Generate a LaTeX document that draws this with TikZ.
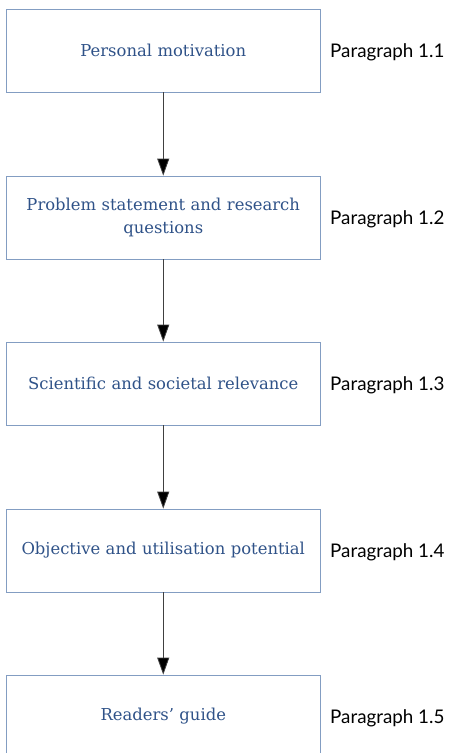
\documentclass[tikz,border=0pt]{standalone}
\usepackage{fontspec}
\setmainfont{DejaVu Serif}
\newfontfamily\labelfont{Lato}
\usetikzlibrary{arrows.meta}
\definecolor{boxline}{HTML}{839DC2}
\definecolor{boxtext}{HTML}{2F5288}
\definecolor{arrowline}{HTML}{404040}
\begin{document}
\begin{tikzpicture}[x=1pt,y=-1pt,
  stage/.style={draw=boxline, line width=0.8pt, minimum width=314pt, minimum height=83pt,
    text width=300pt, align=center, text=boxtext, font=\fontsize{16.4}{23}\selectfont, inner sep=0pt},
  para/.style={anchor=west, font=\labelfont\fontsize{18.8}{22}\selectfont, text=black, inner sep=0pt},
  flow/.style={draw=arrowline, line width=0.8pt, -{Triangle[length=17pt,width=12pt,fill=black]}}]
  \useasboundingbox (0,0) rectangle (448,753);
  \node[stage] (s1) at (163.25,50.5) {Personal motivation};
  \node[stage] (s2) at (163.25,217.5) {Problem statement and research\\questions};
  \node[stage] (s3) at (163.25,383.5) {Scientific and societal relevance};
  \node[stage] (s4) at (163.25,550.5) {Objective and utilisation potential};
  \node[stage] (s5) at (163.25,716.5) {Readers’ guide};
  \node[para] (p1) at (330,52.5) {Paragraph 1.1};
  \node[para] (p2) at (330,219.5) {Paragraph 1.2};
  \node[para] (p3) at (330,385.5) {Paragraph 1.3};
  \node[para] (p4) at (330,552.5) {Paragraph 1.4};
  \node[para] (p5) at (330,718.5) {Paragraph 1.5};
  \draw[flow] (s1) -- (s2);
  \draw[flow] (s2) -- (s3);
  \draw[flow] (s3) -- (s4);
  \draw[flow] (s4) -- (s5);
\end{tikzpicture}
\end{document}
